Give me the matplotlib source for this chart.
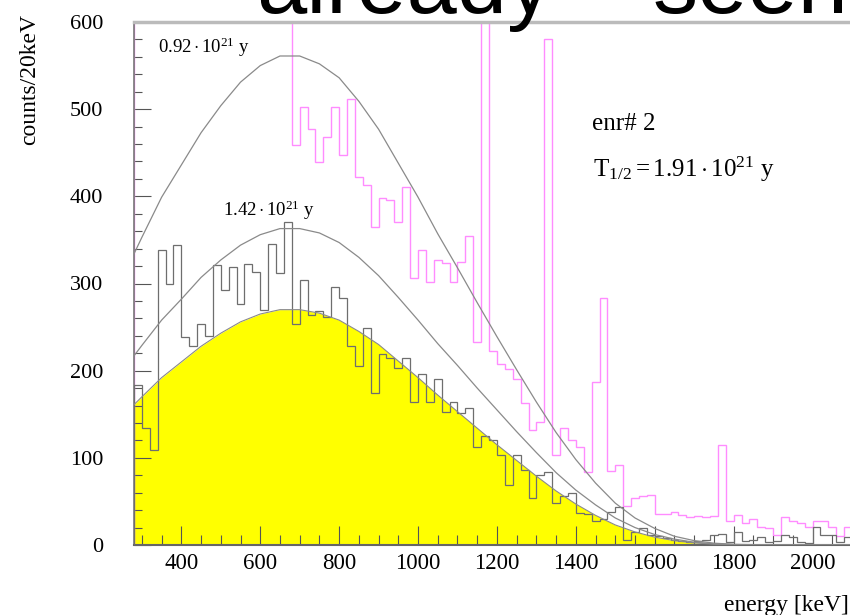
import numpy as np
import matplotlib
matplotlib.use("Agg")
import matplotlib.pyplot as plt
from matplotlib.ticker import MultipleLocator

plt.rcParams['font.family'] = ['Liberation Serif', 'DejaVu Serif']
plt.rcParams['mathtext.fontset'] = 'custom'
plt.rcParams['mathtext.rm'] = 'Liberation Serif'
plt.rcParams['mathtext.it'] = 'Liberation Serif:italic'
plt.rcParams['mathtext.bf'] = 'Liberation Serif:bold'

# 20 keV bins from 280 to 2100 keV
edges = np.arange(280, 2101, 20)

# spectrum after cuts (grey histogram)
gray_counts = [183, 134, 109, 339, 300, 344, 239, 228, 254, 240,
               321, 292, 319, 276, 322, 313, 270, 345, 312, 370,
               254, 304, 264, 268, 262, 296, 283, 228, 205, 249,
               174, 219, 214, 203, 214, 164, 196, 164, 190, 153,
               164, 151, 157, 112, 125, 121, 103, 69, 103, 86,
               54, 80, 84, 48, 56, 60, 37, 36, 27, 30,
               38, 44, 6, 15, 20, 12, 10, 8, 6, 5,
               4, 5, 6, 12, 13, 4, 15, 5, 6, 9,
               3, 5, 11, 9, 3, 2, 21, 11, 11, 4,
               9]

# full spectrum (magenta histogram), first bins are off scale
magenta_counts = [900, 900, 900, 900, 900, 900, 900, 900, 900, 900,
                  900, 900, 900, 900, 900, 900, 900, 900, 900, 900,
                  459, 503, 477, 439, 468, 503, 447, 512, 422, 413,
                  365, 398, 396, 371, 411, 306, 339, 302, 327, 323,
                  302, 325, 354, 233, 900, 223, 208, 202, 191, 163,
                  132, 141, 580, 103, 134, 120, 112, 84, 187, 283,
                  85, 92, 45, 54, 56, 57, 36, 36, 38, 34,
                  32, 33, 32, 33, 115, 27, 34, 25, 30, 21,
                  19, 12, 32, 28, 25, 21, 27, 27, 21, 10,
                  21]

# 2nu-beta-beta curves for the three half-lives
curve_energy = [280, 300, 350, 400, 450, 500, 550, 600, 650, 700,
                750, 800, 850, 900, 950, 1000, 1050, 1100, 1150, 1200,
                1250, 1300, 1350, 1400, 1450, 1500, 1550, 1600, 1650, 1700,
                1750, 1800, 1900, 2039, 2100]
fit_191 = [161, 170, 192, 210, 228, 243, 256, 265, 270, 270,
           266, 258, 245, 230, 211, 192, 172, 153, 134, 115,
           97, 79, 62, 47, 34, 23, 15, 9, 5, 2.4,
           1, 0.4, 0.05, 0, 0]
fit_142 = [217, 229, 258, 282, 307, 327, 344, 356, 363, 363,
           358, 347, 330, 309, 284, 258, 231, 206, 180, 155,
           130, 106, 83, 63, 46, 31, 20, 12, 6.7, 3.2,
           1.3, 0.5, 0.07, 0, 0]
fit_092 = [334, 353, 399, 436, 473, 504, 531, 550, 561, 561,
           552, 536, 509, 477, 438, 399, 357, 318, 278, 239,
           201, 164, 129, 98, 71, 48, 31, 19, 10, 5,
           2.1, 0.8, 0.1, 0, 0]

fig = plt.figure(figsize=(8.5, 6.15), dpi=100)
ax = fig.add_axes([134 / 850, 70 / 615, 718 / 850, 523 / 615])

# yellow area of the best fit
ax.fill_between(curve_energy, fit_191, color='#ffff00', lw=0, zorder=1)
ax.plot(curve_energy, fit_191, color='#8a8a8a', lw=0.8, zorder=4)

# histograms
ax.stairs(magenta_counts, edges, color='#ff8cff', lw=1.0, zorder=2)
ax.stairs(gray_counts, edges, color='#6e6e6e', lw=0.9, zorder=3)

# the other two half-lives
ax.plot(curve_energy, fit_142, color='#8a8a8a', lw=0.9, zorder=4)
ax.plot(curve_energy, fit_092, color='#8a8a8a', lw=0.9, zorder=4)

ax.set_xlim(280, 2100)
ax.set_ylim(0, 600)

ax.xaxis.set_major_locator(MultipleLocator(200))
ax.xaxis.set_minor_locator(MultipleLocator(50))
ax.yaxis.set_major_locator(MultipleLocator(100))
ax.yaxis.set_minor_locator(MultipleLocator(20))
ax.tick_params(axis='x', which='major', direction='in', length=14, width=0.8,
               color='#555555', labelsize=16.5, pad=6)
ax.tick_params(axis='x', which='minor', direction='in', length=7, width=0.8,
               color='#555555')
ax.tick_params(axis='y', which='major', direction='in', length=12, width=0.8,
               color='#555555', labelsize=16, pad=22)
ax.tick_params(axis='y', which='minor', direction='in', length=6, width=0.8,
               color='#555555')

ax.spines['top'].set_color('#bbbbbb')
ax.spines['top'].set_linewidth(2.5)
ax.spines['left'].set_color('#777777')
ax.spines['left'].set_linewidth(1.2)
ax.spines['bottom'].set_color('#666666')
ax.spines['bottom'].set_linewidth(1.5)
ax.spines['right'].set_visible(False)

# annotations
ax.text(341, 564, r'$0.92\cdot10^{21}$ y', fontsize=13.5, va='baseline')
ax.text(506, 378, r'$1.42\cdot10^{21}$ y', fontsize=13.5, va='baseline')
ax.text(1441, 476, 'enr# 2', fontsize=18, va='baseline')
ax.text(1443, 422, r'$\mathrm{T}_{1/2} = 1.91\cdot10^{21}$ y', fontsize=18,
        va='baseline')

fig.text(30 / 850, 1 - 14 / 615, 'counts/20keV', rotation=90, ha='center',
         va='top', fontsize=17)
fig.text(849 / 850, 1 - 611 / 615, 'energy [keV]', ha='right',
         va='baseline', fontsize=17)

# big heading cut off at the top of the picture, as in the source image
fig.text(256 / 850, 1 - 13 / 615, 'already', fontsize=65,
         family='Liberation Sans', va='baseline', ha='left')
fig.text(848 / 850, 1 - 13 / 615, 'seen', fontsize=65,
         family='Liberation Sans', va='baseline', ha='right')

fig.savefig('out.png', dpi=100)
